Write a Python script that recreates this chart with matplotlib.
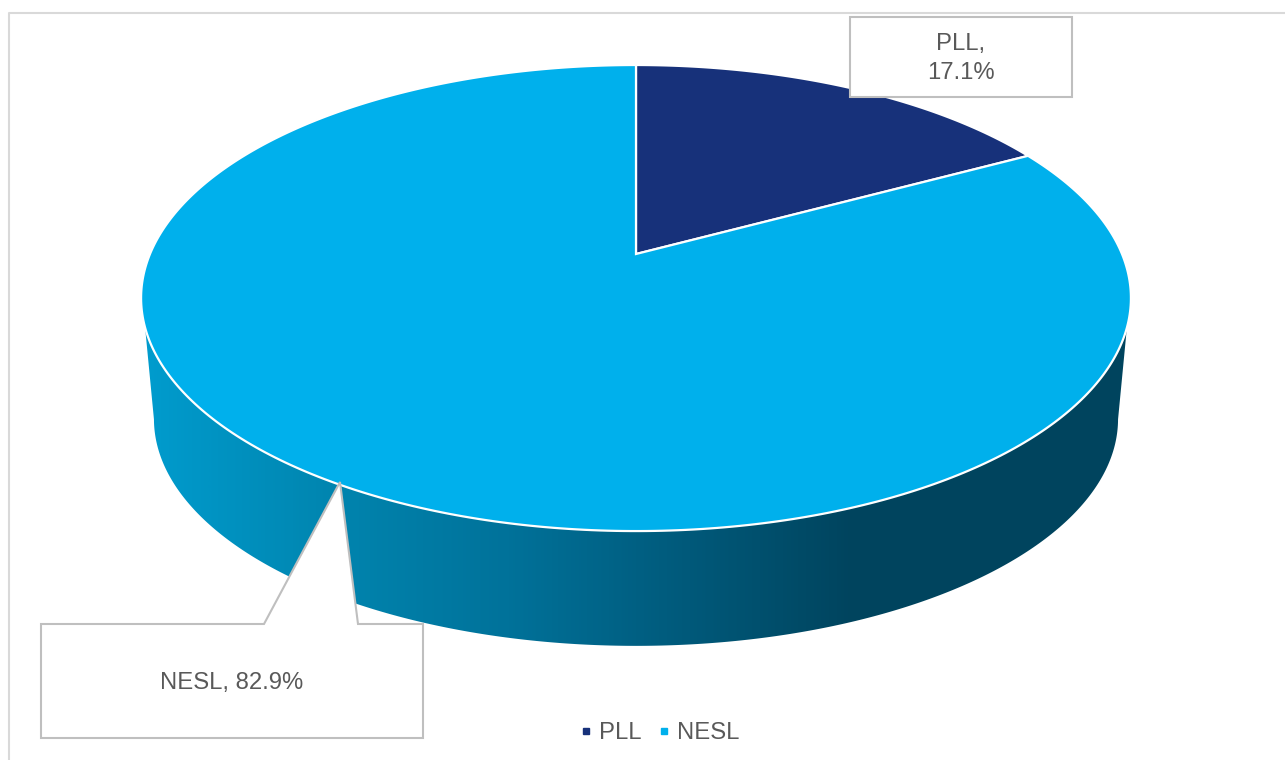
#!/usr/bin/env python3
"""
3D style pie chart of PLL / NESL share, drawn in pixel coordinates.
"""

import matplotlib
matplotlib.use('Agg')
import matplotlib.pyplot as plt
from matplotlib.colors import LinearSegmentedColormap
from matplotlib.lines import Line2D
from matplotlib.patches import Polygon
import numpy as np

# Data
categories = ['PLL', 'NESL']
shares = [17.1, 82.9]
colors = ['#17317A', '#00B0EC']
callouts = ['PLL,\n17.1%', 'NESL, 82.9%']

plt.rcParams['font.family'] = ['Liberation Sans', 'DejaVu Sans']
TEXT = '#595959'
BOX = '#BFBFBF'

fig = plt.figure(figsize=(12.85, 7.6), dpi=100)
ax = fig.add_axes([0, 0, 1, 1])
ax.set_xlim(0, 1285)
ax.set_ylim(760, 0)
ax.axis('off')

# Perspective of the disc, fitted to the picture
CX, CY = 636, 254
A, B, K = 486, 224.7, 0.189
DEPTH_SHIFT, DEPTH_SCALE = 122, 0.974


def project(theta, r=1.0, shift=0, scale=1.0):
    """theta is clockwise from 12 o'clock, radians."""
    u = r * np.sin(theta)
    v = r * np.cos(theta)
    d = 1 + K * v
    return CX + scale * A * u / d, CY + shift - scale * B * v / d


# Side wall: front part of top rim + front part of bottom rim
t = np.linspace(0, 2 * np.pi, 721)
tx, ty = project(t)
top_front = ty >= 327
order = np.argsort(tx[top_front])
top_pts = np.column_stack([tx[top_front][order], ty[top_front][order]])
bx, by = project(t, shift=DEPTH_SHIFT, scale=DEPTH_SCALE)
bot_front = by >= 419
order = np.argsort(bx[bot_front])[::-1]
bot_pts = np.column_stack([bx[bot_front][order], by[bot_front][order]])
wall = Polygon(np.vstack([top_pts, bot_pts]), closed=True, facecolor='none', edgecolor='none')
ax.add_patch(wall)

wall_cmap = LinearSegmentedColormap.from_list('wall', [
    (0.00, '#009CCE'),
    (0.20, '#0084AE'),
    (0.37, '#00729A'),
    (0.50, '#006083'),
    (0.72, '#00445E'),
    (1.00, '#00455F'),
])
grad = np.linspace(0, 1, 600).reshape(1, -1)
im = ax.imshow(grad, cmap=wall_cmap, extent=[141, 1131, 660, 300], aspect='auto', zorder=1)
im.set_clip_path(wall)
ax.set_xlim(0, 1285)
ax.set_ylim(760, 0)

# Top face slices
start = 0.0
total = sum(shares)
for val, col in zip(shares, colors):
    end = start + 2 * np.pi * val / total
    a = np.linspace(start, end, 400)
    x, y = project(a)
    pts = np.column_stack([np.r_[CX, x], np.r_[CY, y]])
    ax.add_patch(Polygon(pts, closed=True, facecolor=col, edgecolor='white',
                         linewidth=1.6, zorder=2))
    start = end

# Callouts
ax.add_patch(Polygon([(850, 17), (1072, 17), (1072, 97), (850, 97)], closed=True,
                     facecolor='white', edgecolor=BOX, linewidth=1.5, zorder=3))
ax.add_patch(Polygon([(41, 624), (264, 624), (340, 482), (358, 624), (423, 624),
                      (423, 738), (41, 738)], closed=True,
                     facecolor='white', edgecolor=BOX, linewidth=1.5, zorder=3))
ax.text(961, 58.5, callouts[0], fontsize=17.2, color=TEXT, ha='center', va='center',
        linespacing=1.42, zorder=4)
ax.text(232, 683.5, callouts[1], fontsize=17.2, color=TEXT, ha='center', va='center', zorder=4)

# Chart frame, only left and top show
ax.plot([9, 9, 1285], [760, 13, 13], color='#D9D9D9', linewidth=1.5, zorder=0)

# Legend
handles = [Line2D([], [], linestyle='none', marker='s', markersize=5, color=c) for c in colors]
ax.legend(handles, categories, ncol=2, loc='center', bbox_to_anchor=(659, 733),
          bbox_transform=ax.transData, frameon=False, fontsize=17.2, labelcolor=TEXT,
          handlelength=0.6, handletextpad=0.25, columnspacing=0.66, borderpad=0)

fig.savefig('out.png', dpi=100)
